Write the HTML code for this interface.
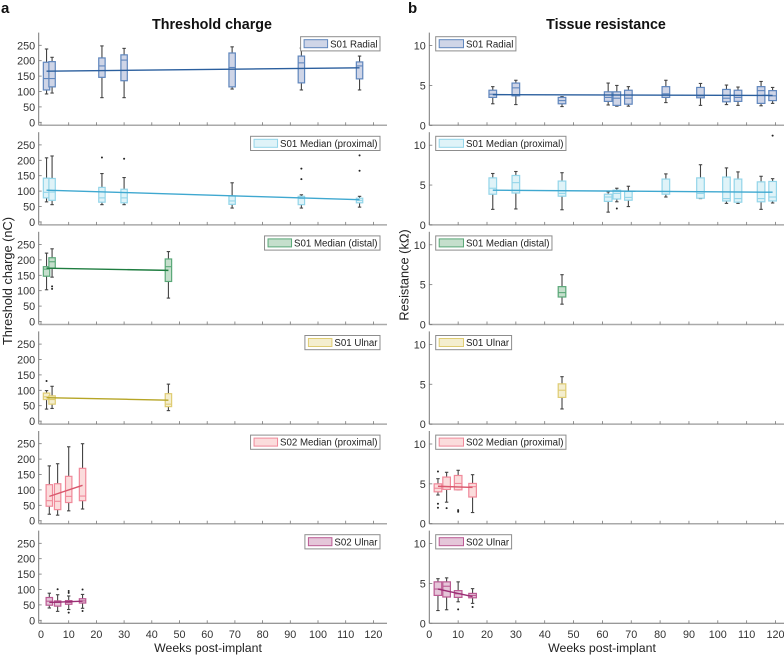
<!DOCTYPE html>
<html lang="en">
<head>
<meta charset="utf-8">
<title>Threshold charge and tissue resistance</title>
<style>
html,body{margin:0;padding:0;background:#fff;}
svg{display:block;filter:blur(0.3px);}
text{font-family:"Liberation Sans","DejaVu Sans",sans-serif;}
</style>
</head>
<body>
<svg id="chart" xmlns="http://www.w3.org/2000/svg" width="784" height="655" viewBox="0 0 784 655">
  <rect x="0" y="0" width="784" height="655" fill="#ffffff"></rect>
  <text x="1" y="13" font-size="15" font-weight="bold" fill="#111">a</text>
  <text x="408" y="13" font-size="15" font-weight="bold" fill="#111">b</text>
  <text x="212" y="29" font-size="14.3" font-weight="bold" text-anchor="middle" fill="#111">Threshold charge</text>
  <text x="606" y="29" font-size="14.3" font-weight="bold" text-anchor="middle" fill="#111">Tissue resistance</text>
  <text transform="translate(12,281) rotate(-90)" font-size="12.8" text-anchor="middle" fill="#222">Threshold charge (nC)</text>
  <text transform="translate(408.5,275) rotate(-90)" font-size="12.8" text-anchor="middle" fill="#222">Resistance (kΩ)</text>
  <text x="208" y="652" font-size="12.3" text-anchor="middle" fill="#222">Weeks post-implant</text>
  <text x="602" y="652" font-size="12.3" text-anchor="middle" fill="#222">Weeks post-implant</text>
</svg>
<script>
// ---- shared tick labels
const weekTicks = [0,10,20,30,40,50,60,70,80,90,100,110,120];
const chargeTicks = [0,50,100,150,200,250];
const resistanceTicks = [0,5,10];

// ---- Threshold charge data. Box rows: [upper whisker, q3, median, q1, lower whisker]
const chargeRadialWeeks = [2,4,22,30,69,94,115];
const chargeRadialBoxes = [[238,195,142,105,92],[211,197,142,115,95],[248,209,183,146,80],[240,219,202,135,80],[245,225,178,115,108],[241,215,193,128,105],[215,196,183,141,105]];
const chargeRadialOutliers = [[],[],[],[],[],[],[]];
const chargeRadialTrend = [166,177];

const chargeMedProxWeeks = [2,4,22,30,69,94,115];
const chargeMedProxBoxes = [[208,142,96,78,65],[214,141,97,70,56],[157,112,78,64,56],[144,106,78,62,56],[127,84,68,57,45],[88,83,76,56,45],[83,77,70,62,48]];
const chargeMedProxOutliers = [[],[],[209],[205],[],[173,139],[216,166]];
const chargeMedProxTrend = [103,72];

const chargeMedDistWeeks = [2,4,46];
const chargeMedDistBoxes = [[222,178,170,147,103],[236,207,194,173,144],[227,203,178,130,76]];
const chargeMedDistOutliers = [[],[114,106],[]];
const chargeMedDistTrend = [173,166];

const chargeUlnarWeeks = [2,4,46];
const chargeUlnarBoxes = [[99,91,79,70,39],[113,82,70,55,41],[120,89,55,47,34]];
const chargeUlnarOutliers = [[130],[],[]];
const chargeUlnarTrend = [76,68];

const chargeS2MedWeeks = [3,6,10,15];
const chargeS2MedBoxes = [[178,117,65,47,21],[185,120,63,36,18],[240,144,79,59,32],[250,170,80,65,38]];
const chargeS2MedOutliers = [[],[],[],[]];
const chargeS2MedTrend = [79,115];

const chargeS2UlnWeeks = [3,6,10,15];
const chargeS2UlnBoxes = [[88,74,62,49,40],[83,63,58,46,29],[79,64,58,52,35],[84,70,63,56,39]];
const chargeS2UlnOutliers = [[],[101],[95,89,25],[100,30]];
const chargeS2UlnTrend = [58,62];

// ---- Tissue resistance data
const resRadialWeeks = [22,30,46,62,65,69,82,94,103,107,115,119];
const resRadialBoxes = [[4.85,4.4,3.9,3.5,2.7],[5.65,5.3,4.7,3.7,2.6],[3.6,3.5,3.1,2.7,2.35],[5.3,4.2,3.5,3.0,2.55],[5.0,4.2,3.4,2.5,2.4],[4.85,4.4,3.4,2.65,2.4],[5.65,4.85,3.95,3.5,2.85],[5.25,4.75,3.7,3.45,2.5],[5.05,4.5,3.4,2.95,2.6],[4.8,4.4,3.5,3.0,2.5],[5.5,4.85,4.35,2.75,2.45],[4.75,4.35,3.7,3.1,2.75]];
const resRadialOutliers = [[],[],[],[],[],[],[],[],[],[],[],[]];
const resRadialTrend = [3.85,3.75];

const resMedProxWeeks = [22,30,46,62,65,69,82,94,103,107,115,119];
const resMedProxBoxes = [[6.45,5.9,4.6,3.85,1.95],[6.7,6.2,5.3,4.0,2.0],[6.55,5.5,3.95,3.6,1.9],[4.15,3.85,3.5,2.95,1.6],[4.6,4.35,3.95,3.25,2.9],[4.85,4.2,3.45,3.1,2.3],[6.4,5.75,4.2,3.85,3.5],[7.55,5.9,3.95,3.35,3.3],[7.15,6.0,3.3,3.0,2.7],[6.65,5.75,3.3,2.85,2.7],[6.1,5.4,3.3,2.9,1.95],[5.8,5.45,3.5,3.0,2.75]];
const resMedProxOutliers = [[],[],[],[],[2.05],[],[],[],[],[],[],[11.2]];
const resMedProxTrend = [4.35,4.1];

const resMedDistWeeks = [46];
const resMedDistBoxes = [[6.25,4.75,4.0,3.45,2.55]];
const resMedDistOutliers = [[]];
const resMedDistTrend = [];

const resUlnarWeeks = [46];
const resUlnarBoxes = [[5.95,5.05,4.25,3.35,1.9]];
const resUlnarOutliers = [[]];
const resUlnarTrend = [];

const resS2MedWeeks = [3,6,10,15];
const resS2MedBoxes = [[5.65,5.0,4.45,4.0,3.6],[6.45,5.85,4.65,4.3,2.7],[6.7,6.05,5.05,4.25,4.25],[6.15,5.05,4.65,3.35,1.4]];
const resS2MedOutliers = [[6.55,2.5,2.0],[1.95],[1.7,1.5],[]];
const resS2MedTrend = [4.7,4.55];

const resS2UlnWeeks = [3,6,10,15];
const resS2UlnBoxes = [[5.6,5.2,4.3,3.5,1.6],[5.7,5.2,4.65,3.3,1.7],[5.2,4.1,3.7,3.25,2.7],[4.35,3.75,3.5,3.2,2.5]];
const resS2UlnOutliers = [[],[],[1.75],[2.05]];
const resS2UlnTrend = [4.3,3.35];

// ---- Names and colours per row
const rowNames = ['S01 Radial','S01 Median (proximal)','S01 Median (distal)','S01 Ulnar','S02 Median (proximal)','S02 Ulnar'];
const rowKeys = ['s01-radial','s01-median-proximal','s01-median-distal','s01-ulnar','s02-median-proximal','s02-ulnar'];
const edgeColors = ['#5f86bd','#93d5e9','#5aa878','#dfcc73','#f0899a','#bb5a93'];
const fillColors = ['#cfd5e7','#dff3f8','#c5dfcc','#f4eecf','#fbdcdc','#e5c6d9'];
const trendColors = ['#2b5f9e','#3fa8d0','#1f7d40','#b6a526','#d9586d','#9b2e74'];

const chargeSeries = [
  [chargeRadialWeeks,chargeRadialBoxes,chargeRadialOutliers,chargeRadialTrend],
  [chargeMedProxWeeks,chargeMedProxBoxes,chargeMedProxOutliers,chargeMedProxTrend],
  [chargeMedDistWeeks,chargeMedDistBoxes,chargeMedDistOutliers,chargeMedDistTrend],
  [chargeUlnarWeeks,chargeUlnarBoxes,chargeUlnarOutliers,chargeUlnarTrend],
  [chargeS2MedWeeks,chargeS2MedBoxes,chargeS2MedOutliers,chargeS2MedTrend],
  [chargeS2UlnWeeks,chargeS2UlnBoxes,chargeS2UlnOutliers,chargeS2UlnTrend]
];
const resistanceSeries = [
  [resRadialWeeks,resRadialBoxes,resRadialOutliers,resRadialTrend],
  [resMedProxWeeks,resMedProxBoxes,resMedProxOutliers,resMedProxTrend],
  [resMedDistWeeks,resMedDistBoxes,resMedDistOutliers,resMedDistTrend],
  [resUlnarWeeks,resUlnarBoxes,resUlnarOutliers,resUlnarTrend],
  [resS2MedWeeks,resS2MedBoxes,resS2MedOutliers,resS2MedTrend],
  [resS2UlnWeeks,resS2UlnBoxes,resS2UlnOutliers,resS2UlnTrend]
];

const svg = document.getElementById('chart');
const NS = 'http://www.w3.org/2000/svg';
const AXIS_COLOR = '#777';
const WHISKER_COLOR = '#444';

function make(parent, tag, attrs, content) {
  const node = document.createElementNS(NS, tag);
  for (const key in attrs) node.setAttribute(key, attrs[key]);
  if (content !== undefined) node.textContent = content;
  parent.appendChild(node);
  return node;
}

function rowBottom(i) { return 125.3 + i * 99.6; }

function drawPanel(panelKey, seriesList, opts) {
  const xOf = w => opts.x0 + w * opts.xPerWeek;
  seriesList.forEach((series, r) => {
    const [weeks, boxes, outliers, trend] = series;
    const bottom = rowBottom(r);
    const y0 = bottom + opts.yZeroOffset;
    const yOf = v => y0 - v * opts.yPerUnit;
    const key = rowKeys[r];

    const group = make(svg, 'g', {});
    
    

    // axes
    const yAxis = make(group, 'line', {x1:opts.axisLeft, x2:opts.axisLeft, y1:bottom - 92.7, y2:bottom, stroke:AXIS_COLOR, 'stroke-width':1});
    
    
    const xAxis = make(group, 'line', {x1:opts.axisLeft, x2:opts.axisRight, y1:bottom, y2:bottom, stroke: r === 5 ? AXIS_COLOR : '#aaa', 'stroke-width': r === 5 ? 1 : 1.5});
    
    

    opts.yTicks.forEach(v => {
      const y = yOf(v);
      make(group, 'line', {x1:opts.axisLeft, x2:opts.axisLeft + 3, y1:y, y2:y, stroke:AXIS_COLOR, 'stroke-width':0.8});
      const label = make(group, 'text', {x:opts.axisLeft - 3.5, y:y + 4, 'font-size':opts.tickFont, 'text-anchor':'end', fill:'#333'}, String(v));
      
      
    });
    weekTicks.forEach(w => {
      const x = xOf(w);
      make(group, 'line', {x1:x, x2:x, y1:bottom, y2:bottom - 3, stroke:AXIS_COLOR, 'stroke-width':0.8});
      if (r === 5) {
        const label = make(group, 'text', {x:x, y:638, 'font-size':opts.tickFont, 'text-anchor':'middle', fill:'#333'}, String(w));
        
        
      }
    });

    // boxes
    weeks.forEach((week, i) => {
      const [hi, q3, med, q1, lo] = boxes[i];
      const x = xOf(week);
      const boxGroup = make(group, 'g', {});
      
      
      make(boxGroup, 'line', {x1:x, x2:x, y1:yOf(hi), y2:yOf(lo), stroke:WHISKER_COLOR, 'stroke-width':1.1});
      make(boxGroup, 'line', {x1:x - 1.7, x2:x + 1.7, y1:yOf(hi), y2:yOf(hi), stroke:WHISKER_COLOR, 'stroke-width':1.1});
      make(boxGroup, 'line', {x1:x - 1.7, x2:x + 1.7, y1:yOf(lo), y2:yOf(lo), stroke:WHISKER_COLOR, 'stroke-width':1.1});
      make(boxGroup, 'rect', {x:x - opts.boxHalf, y:yOf(q3), width:opts.boxHalf * 2, height:Math.max(0.5, yOf(q1) - yOf(q3)), fill:fillColors[r], stroke:edgeColors[r], 'stroke-width':1.2});
      make(boxGroup, 'line', {x1:x - opts.boxHalf, x2:x + opts.boxHalf, y1:yOf(med), y2:yOf(med), stroke:edgeColors[r], 'stroke-width':1.1});
      outliers[i].forEach(v => {
        const dot = make(boxGroup, 'circle', {cx:x, cy:yOf(v), r:1, fill:'#222'});
        
        
      });
    });

    // trend line
    if (trend.length === 2) {
      const first = weeks[0];
      const last = weeks[weeks.length - 1];
      const trendLine = make(group, 'line', {x1:xOf(first), x2:xOf(last), y1:yOf(trend[0]), y2:yOf(trend[1]), stroke:trendColors[r], 'stroke-width':1.4});
      
      
    }

    // legend
    const name = rowNames[r];
    const legendTop = bottom - 88.6;
    const swatchW = opts.swatchW;
    const legend = make(group, 'g', {});
    
    
    const frame = make(legend, 'rect', {y:legendTop, height:14.2, fill:'#fff', stroke:'#8d8d8d', 'stroke-width':1});
    const swatch = make(legend, 'rect', {y:legendTop + 3, height:8, width:swatchW, fill:fillColors[r], stroke:edgeColors[r], 'stroke-width':1});
    const text = make(legend, 'text', {y:legendTop + 10.6, 'font-size':9.7, fill:'#222'}, name);
    const textW = text.getComputedTextLength();
    const width = textW + swatchW + 8.5;
    const left = opts.legendRight !== null ? opts.legendRight - width : opts.legendLeft;
    frame.setAttribute('x', left);
    frame.setAttribute('width', width);
    swatch.setAttribute('x', left + 3.5);
    text.setAttribute('x', left + swatchW + 6);
  });
}

drawPanel('threshold', chargeSeries, {
  x0:41, xPerWeek:2.77, axisLeft:38.7, axisRight:387,
  yZeroOffset:-3, yPerUnit:77/250, yTicks:chargeTicks,
  tickFont:10.8, boxHalf:3.2, swatchW:23.5, legendRight:380, legendLeft:0
});
drawPanel('resistance', resistanceSeries, {
  x0:429.3, xPerWeek:2.885, axisLeft:429.3, axisRight:784,
  yZeroOffset:0, yPerUnit:7.97, yTicks:resistanceTicks,
  tickFont:10.8, boxHalf:3.8, swatchW:24.3, legendRight:null, legendLeft:435.7
});
</script>
</body>
</html>
